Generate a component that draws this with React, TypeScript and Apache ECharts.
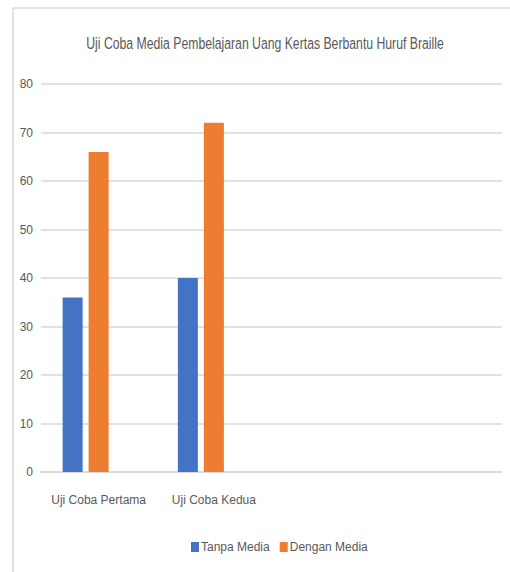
import React, { useEffect, useRef } from "react";
import * as echarts from "echarts";

const categories = ["Uji Coba Pertama", "Uji Coba Kedua", "", ""];
const tanpaMedia = [36, 40, null, null];
const denganMedia = [66, 72, null, null];
const emptySeries = [null, null, null, null];
const seriesNames = ["Tanpa Media", "Dengan Media"];
const titleText = "Uji Coba Media Pembelajaran Uang Kertas Berbantu Huruf Braille";

const FONT = "'Liberation Sans', Arial, sans-serif";
const TEXT = "#595959";
const GRID = "#d9d9d9";

export default function App() {
  const ref = useRef<HTMLDivElement>(null);
  useEffect(() => {
    document.body.style.margin = "0";
    const chart = echarts.init(ref.current!, null, { renderer: "svg" });
    chart.setOption({
      animation: false,
      backgroundColor: "#ffffff",
      legend: {
        data: seriesNames,
        left: 186,
        top: 536,
        itemWidth: 8,
        itemHeight: 10,
        itemGap: 10,
        icon: "rect",
        textStyle: { fontFamily: FONT, fontSize: 12, color: TEXT, padding: [0, 0, 0, -3] },
      },
      grid: { left: 41, right: 8, top: 84, bottom: 100, containLabel: false },
      xAxis: {
        type: "category",
        data: categories,
        axisLine: { show: true, lineStyle: { color: GRID, width: 1.5 } },
        axisTick: { show: false },
        axisLabel: { interval: 0, fontFamily: FONT, fontSize: 12, color: TEXT, margin: 22 },
      },
      yAxis: {
        type: "value",
        min: 0,
        max: 80,
        interval: 10,
        axisLine: { show: false },
        axisTick: { show: false },
        splitLine: { lineStyle: { color: GRID, width: 1.5 } },
        axisLabel: { fontFamily: FONT, fontSize: 12, color: TEXT, margin: 8 },
      },
      series: [
        {
          name: seriesNames[0],
          type: "bar",
          data: tanpaMedia,
          barWidth: 20,
          barGap: "30%",
          itemStyle: { color: "#4472c4" },
        },
        {
          name: seriesNames[1],
          type: "bar",
          data: denganMedia,
          barWidth: 20,
          itemStyle: { color: "#ed7d31" },
        },
        {
          name: "",
          type: "bar",
          data: emptySeries,
          barWidth: 20,
          itemStyle: { color: "#a5a5a5" },
        },
      ],
      graphic: [
        { type: "line", shape: { x1: 13, y1: 8, x2: 510, y2: 8 }, style: { stroke: GRID, lineWidth: 1.5 } },
        { type: "line", shape: { x1: 13, y1: 8, x2: 13, y2: 572 }, style: { stroke: GRID, lineWidth: 1.5 } },
        {
          type: "text",
          x: 265,
          y: 43,
          scaleX: 0.72,
          style: {
            text: titleText,
            fontFamily: FONT,
            fontSize: 17,
            fill: TEXT,
            align: "center",
            verticalAlign: "middle",
          },
        },
      ],
    });
    return () => chart.dispose();
  }, []);
  return <div ref={ref} style={{ position: "absolute", left: 0, top: 0, width: 510, height: 572 }} />;
}
